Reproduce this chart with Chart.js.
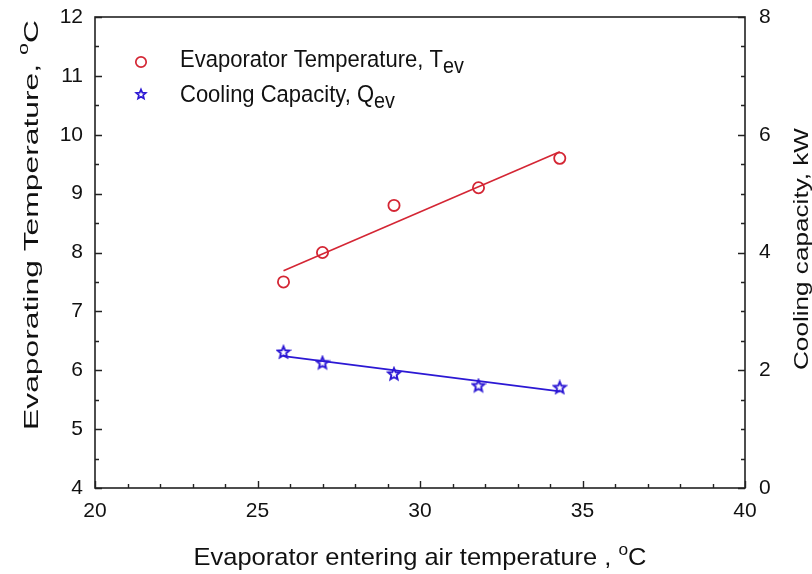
<!DOCTYPE html>
<html>
<head>
<meta charset="utf-8">
<script src="https://cdn.jsdelivr.net/npm/chart.js@4/dist/chart.umd.min.js"></script>
<style>
  html, body { margin: 0; padding: 0; background: #ffffff; }
  #wrap { width: 812px; height: 574px; }
</style>
</head>
<body>
<div id="wrap"><canvas id="chart" width="812" height="574"></canvas></div>
<script>
// Measured data: evaporator entering air temperature (°C)
const airTemp = [25.8, 27.0, 29.2, 31.8, 34.3];
// Evaporating temperature T_ev (°C), left axis
const evapTemp = [7.5, 8.0, 8.8, 9.1, 9.6];
// Cooling capacity Q_ev (kW), right axis
const coolingCap = [2.31, 2.13, 1.94, 1.74, 1.71];

// Linear trend lines (end points)
const fitX = [25.8, 34.3];
const evapTempFit = [7.69, 9.71];
const coolingCapFit = [2.24, 1.64];

// Axis tick values
const xTicks = [20, 25, 30, 35, 40];
const yLeftTicks = [4, 5, 6, 7, 8, 9, 10, 11, 12];
const yRightTicks = [0, 2, 4, 6, 8];

const FONT = "'Liberation Sans', Arial, Helvetica, sans-serif";
const RED = '#d42634';
const BLUE = '#2c18d4';
const INK = '#111111';

// hollow five-pointed star used as point marker
function makeStar(size, r, color, lw) {
  const cv = document.createElement('canvas');
  cv.width = size; cv.height = size;
  const g = cv.getContext('2d');
  g.strokeStyle = color;
  g.lineWidth = lw;
  g.lineJoin = 'miter';
  g.beginPath();
  for (let i = 0; i < 10; i++) {
    const a = -Math.PI / 2 + i * Math.PI / 5;
    const rr = i % 2 === 0 ? r : r * 0.45;
    const px = size / 2 + rr * Math.cos(a);
    const py = size / 2 + rr * Math.sin(a) + 0.5;
    if (i === 0) g.moveTo(px, py); else g.lineTo(px, py);
  }
  g.closePath();
  g.stroke();
  return cv;
}
const starPoint = makeStar(16, 6.2, BLUE, 1.9);
const starLegend = makeStar(14, 5, BLUE, 1.7);

const pts = (xs, ys) => xs.map((x, i) => ({ x: x, y: ys[i] }));

// text with sub/superscript runs, optionally rotated and stretched
function drawRich(ctx, parts, opt) {
  const size = opt.size;
  ctx.save();
  ctx.translate(opt.x, opt.y);
  if (opt.rotate) ctx.rotate(opt.rotate);
  let w = 0;
  const widths = parts.map(p => {
    ctx.font = (size * (p.rel || 1)) + 'px ' + FONT;
    const m = ctx.measureText(p.text).width;
    w += m;
    return m;
  });
  let sx = opt.sx || 1;
  if (opt.length) sx = opt.length / w;
  ctx.scale(sx, opt.sy || 1);
  let cx = opt.align === 'left' ? 0 : -w / 2;
  ctx.fillStyle = opt.color || INK;
  ctx.textBaseline = 'alphabetic';
  ctx.textAlign = 'left';
  parts.forEach((p, i) => {
    ctx.font = (size * (p.rel || 1)) + 'px ' + FONT;
    ctx.fillText(p.text, cx, (p.dy || 0));
    cx += widths[i];
  });
  ctx.restore();
}

// frame, inward tick marks, axis titles and legend
const decorPlugin = {
  id: 'decor',
  afterDraw(chart) {
    const ctx = chart.ctx;
    const a = chart.chartArea;
    const sx = chart.scales.x, sl = chart.scales.y, sr = chart.scales.y2;

    ctx.save();
    ctx.strokeStyle = '#222222';
    ctx.lineWidth = 1.4;
    ctx.beginPath();
    // bottom axis ticks (major every 5, minor every 1)
    for (let v = sx.min; v <= sx.max + 1e-9; v += 1) {
      const len = v % 5 === 0 ? 7 : 4;
      const px = Math.round(sx.getPixelForValue(v)) + 0.5;
      ctx.moveTo(px, a.bottom);
      ctx.lineTo(px, a.bottom - len);
    }
    // left axis ticks (major every 1, minor every 0.5)
    for (let v = sl.min; v <= sl.max + 1e-9; v += 0.5) {
      const len = Number.isInteger(v) ? 7 : 4;
      const py = Math.round(sl.getPixelForValue(v)) + 0.5;
      ctx.moveTo(a.left, py);
      ctx.lineTo(a.left + len, py);
    }
    // right axis ticks (major every 2, minor every 0.5)
    for (let v = sr.min; v <= sr.max + 1e-9; v += 0.5) {
      const len = v % 2 === 0 ? 7 : 4;
      const py = Math.round(sr.getPixelForValue(v)) + 0.5;
      ctx.moveTo(a.right, py);
      ctx.lineTo(a.right - len, py);
    }
    ctx.stroke();
    ctx.lineWidth = 1.6;
    ctx.strokeRect(a.left, a.top, a.right - a.left, a.bottom - a.top);
    ctx.restore();

    // axis titles
    drawRich(ctx, [
      { text: 'Evaporator entering air temperature , ' },
      { text: 'o', rel: 0.68, dy: -10 },
      { text: 'C' }
    ], { x: 420, y: 565, size: 24, length: 453 });

    drawRich(ctx, [
      { text: 'Evaporating Temperature, ' },
      { text: 'o', rel: 0.68, dy: -10 },
      { text: 'C' }
    ], { x: 38, y: 225, size: 21, rotate: -Math.PI / 2, length: 410 });

    drawRich(ctx, [
      { text: 'Cooling capacity, kW' }
    ], { x: 808, y: 249, size: 20, rotate: -Math.PI / 2, length: 242 });

    // legend
    ctx.save();
    ctx.strokeStyle = RED;
    ctx.lineWidth = 1.7;
    ctx.beginPath();
    ctx.arc(141, 62, 5.2, 0, Math.PI * 2);
    ctx.stroke();
    ctx.drawImage(starLegend, 141 - 7, 94 - 7);
    ctx.restore();

    drawRich(ctx, [
      { text: 'Evaporator Temperature, T' },
      { text: 'ev', rel: 0.9, dy: 5 }
    ], { x: 180, y: 67, size: 22, align: 'left', sy: 1.12 });
    drawRich(ctx, [
      { text: 'Cooling Capacity, Q' },
      { text: 'ev', rel: 0.9, dy: 5 }
    ], { x: 180, y: 102, size: 22, align: 'left', sy: 1.12 });
  }
};

const tickFont = { family: FONT, size: 21 };
const noPad = s => { s.paddingTop = 0; s.paddingBottom = 0; s.paddingLeft = 0; s.paddingRight = 0; };

new Chart(document.getElementById('chart').getContext('2d'), {
  type: 'scatter',
  data: {
    datasets: [
      {
        label: 'Evaporator Temperature, Tev',
        data: pts(airTemp, evapTemp),
        yAxisID: 'y',
        pointStyle: 'circle',
        pointRadius: 5.6,
        pointBorderWidth: 1.8,
        borderColor: RED,
        backgroundColor: 'rgba(0,0,0,0)',
        showLine: false,
        order: 1
      },
      {
        label: 'Tev trend',
        data: pts(fitX, evapTempFit),
        yAxisID: 'y',
        showLine: true,
        pointRadius: 0,
        borderColor: RED,
        borderWidth: 1.6,
        order: 3
      },
      {
        label: 'Cooling Capacity, Qev',
        data: pts(airTemp, coolingCap),
        yAxisID: 'y2',
        pointStyle: starPoint,
        pointRadius: 6,
        borderColor: BLUE,
        backgroundColor: BLUE,
        showLine: false,
        order: 2
      },
      {
        label: 'Qev trend',
        data: pts(fitX, coolingCapFit),
        yAxisID: 'y2',
        showLine: true,
        pointRadius: 0,
        borderColor: BLUE,
        borderWidth: 1.8,
        order: 4
      }
    ]
  },
  options: {
    responsive: false,
    animation: false,
    layout: { padding: { top: 17, left: 0, right: 0, bottom: 0 } },
    plugins: { legend: { display: false }, tooltip: { enabled: false } },
    scales: {
      x: {
        type: 'linear',
        position: 'bottom',
        min: 20, max: 40,
        afterBuildTicks: s => { s.ticks = xTicks.map(v => ({ value: v })); },
        afterFit: s => { s.height = 86; noPad(s); },
        grid: { display: false, drawTicks: false },
        border: { display: false },
        ticks: { padding: 11, color: INK, font: tickFont, maxRotation: 0 }
      },
      y: {
        type: 'linear',
        position: 'left',
        min: 4, max: 12,
        afterBuildTicks: s => { s.ticks = yLeftTicks.map(v => ({ value: v })); },
        afterFit: s => { s.width = 95; noPad(s); },
        grid: { display: false, drawTicks: false },
        border: { display: false },
        ticks: { padding: 12, color: INK, font: tickFont }
      },
      y2: {
        type: 'linear',
        position: 'right',
        min: 0, max: 8,
        afterBuildTicks: s => { s.ticks = yRightTicks.map(v => ({ value: v })); },
        afterFit: s => { s.width = 67; noPad(s); },
        grid: { display: false, drawTicks: false },
        border: { display: false },
        ticks: { padding: 14, color: INK, font: tickFont }
      }
    }
  },
  plugins: [decorPlugin]
});
</script>
</body>
</html>
